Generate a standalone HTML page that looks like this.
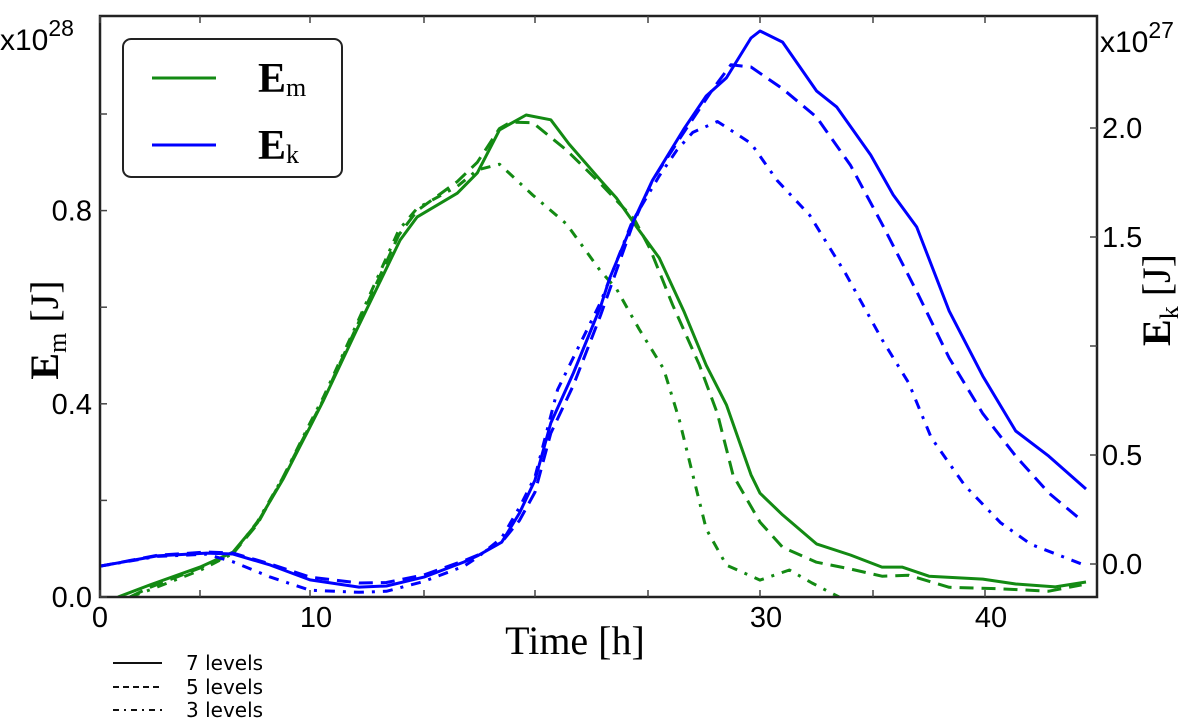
<!DOCTYPE html>
<html><head><meta charset="utf-8"><style>
html,body{margin:0;padding:0;background:#fff;}
svg{display:block;}
text{font-family:"Liberation Sans",sans-serif;}
.serif{font-family:"Liberation Serif","DejaVu Serif",serif;}
</style></head><body>
<svg id="chart" width="1200" height="727" viewBox="0 0 1200 727">
<defs><clipPath id="clip"><rect x="100" y="16" width="997" height="581"/></clipPath></defs>
<g id="series" clip-path="url(#clip)"></g>
<rect x="100" y="16" width="997" height="581" fill="none" stroke="#222" stroke-width="2.5"/>
<g id="ticks"></g>
<text x="0" y="50" font-size="30">x10<tspan dy="-14" font-size="23">28</tspan></text>
<text x="1100" y="52" font-size="30">x10<tspan dy="-14" font-size="23">27</tspan></text>
<text class="serif" transform="translate(58,330) rotate(-90)" text-anchor="middle" font-size="40" font-weight="bold">E<tspan font-size="26" font-weight="normal" dy="8">m</tspan><tspan dy="-8" font-weight="normal"> [J]</tspan></text>
<text class="serif" transform="translate(1170,300) rotate(-90)" text-anchor="middle" font-size="40" font-weight="bold">E<tspan font-size="26" font-weight="normal" dy="8">k</tspan><tspan dy="-8" font-weight="normal"> [J]</tspan></text>
<text class="serif" x="575" y="654" text-anchor="middle" font-size="40">Time [h]</text>
<g>
<rect x="123" y="39" width="219" height="138" rx="8" fill="#fff" stroke="#222" stroke-width="2"/>
<line x1="152" y1="78" x2="216" y2="78" stroke="#138a13" stroke-width="3"/>
<line x1="152" y1="145" x2="216" y2="145" stroke="#0000ff" stroke-width="3"/>
<text class="serif" x="258" y="92" font-size="42" font-weight="bold">E<tspan font-size="26" font-weight="normal" dy="4">m</tspan></text>
<text class="serif" x="258" y="159" font-size="42" font-weight="bold">E<tspan font-size="26" font-weight="normal" dy="4">k</tspan></text>
</g>
<g font-size="20">
<line x1="113" y1="663" x2="162" y2="663" stroke="#111" stroke-width="2"/>
<line x1="113" y1="687" x2="162" y2="687" stroke="#111" stroke-width="2" stroke-dasharray="6,4"/>
<line x1="113" y1="710" x2="162" y2="710" stroke="#111" stroke-width="2" stroke-dasharray="6,5,2,5"/>
<text x="186" y="670" style="font-family:'DejaVu Sans',sans-serif">7 levels</text>
<text x="186" y="694" style="font-family:'DejaVu Sans',sans-serif">5 levels</text>
<text x="186" y="717" style="font-family:'DejaVu Sans',sans-serif">3 levels</text>
</g>
</svg>
<script>
const xTicks=[0,5,10,15,20,25,30,35,40];
const xTickLabels=["0","","10","","","","30","","40"];
const leftTicks=[0,0.2,0.4,0.6,0.8,1.0];
const leftTickLabels=["0.0","","0.4","","0.8",""];
const rightTicks=[0,0.5,1.0,1.5,2.0];
const rightTickLabels=["0.0","0.5","","1.5","2.0"];
// Em (left axis, x1e28 J)
const emSolidT=[0.9,2.5,5,6.5,7.6,8.8,10,10.6,12.05,13.95,14.7,16.5,17.4,18.4,19.6,20.7,21.5,22.9,23.6,24.5,25.5,26.6,27.6,28.5,29.6,30,31,32.5,34,35.4,36.3,37.5,39.9,41.4,43.2,44.6];
const emSolidV=[0,0.025,0.062,0.093,0.153,0.246,0.352,0.408,0.553,0.739,0.787,0.836,0.878,0.967,0.998,0.988,0.938,0.863,0.826,0.766,0.702,0.592,0.48,0.398,0.253,0.215,0.17,0.11,0.087,0.062,0.062,0.043,0.037,0.027,0.021,0.031];
const emDashT=[1.5,2.5,5,6.5,7.6,8.8,10,10.6,12,13.9,14.7,16.5,17.4,18.4,18.9,19.9,21.4,22.9,24.4,25.1,26.1,27.3,28.1,28.8,30,31,32.5,34,35.4,36.6,38.4,40.7,42.9,44.4];
const emDashV=[0,0.02,0.06,0.09,0.15,0.25,0.355,0.41,0.555,0.75,0.80,0.86,0.9,0.97,0.983,0.982,0.925,0.856,0.782,0.72,0.605,0.48,0.38,0.252,0.155,0.103,0.072,0.058,0.043,0.045,0.02,0.017,0.012,0.025];
const emDotT=[1.5,2.5,5,6.5,7.6,8.8,10,10.6,12,13.9,14.7,16.5,17.4,18.4,19.9,21.4,22.9,23.6,24.6,25.7,26.4,27,27.6,28.5,30,31.3,32.3,33.5];
const emDotV=[0,0.015,0.055,0.09,0.155,0.25,0.36,0.415,0.56,0.76,0.805,0.85,0.884,0.896,0.832,0.772,0.675,0.638,0.555,0.472,0.366,0.253,0.141,0.066,0.035,0.056,0.029,0];
// Ek (right axis, x1e27 J)
const ekSolidT=[0,2.85,5.3,6.5,8.2,10,12.15,13.35,15,16.8,17.4,18.5,19.3,20,20.7,21.7,22.9,23.3,24.3,25.2,26.6,27.6,28.5,29.6,30,31,32.5,33.4,34.9,35.9,36.95,38.4,39.9,41.4,42.9,44.6];
const ekSolidV=[-0.01,0.037,0.05,0.046,-0.005,-0.073,-0.106,-0.101,-0.06,0.009,0.037,0.1,0.234,0.385,0.647,0.876,1.18,1.31,1.56,1.76,1.995,2.147,2.23,2.413,2.445,2.394,2.17,2.096,1.876,1.693,1.546,1.16,0.862,0.61,0.495,0.344];
const ekDashT=[0,2.85,5.3,6.5,8.2,10,12.15,13.35,15,16.8,17.4,18.5,19.3,20,20.7,21.7,22.9,24.3,25.2,26.6,27.9,28.7,29.6,31,32.5,34,35.4,37,38.4,39.9,41.4,42.9,44.4];
const ekDashV=[-0.01,0.04,0.055,0.05,0.0,-0.06,-0.087,-0.085,-0.05,0.015,0.04,0.1,0.2,0.33,0.6,0.82,1.14,1.55,1.76,1.98,2.18,2.29,2.28,2.18,2.05,1.83,1.56,1.24,0.945,0.69,0.495,0.326,0.2];
const ekDotT=[0,2.85,5.3,6.5,8.2,10,12.15,13.35,15,16.8,17.4,18.5,19.3,20,21,22.9,24.3,25.5,26.3,27,28.1,29.6,30.75,32.2,33.8,35.4,36.6,37.6,39.1,40.7,42.1,44.4];
const ekDotV=[-0.01,0.035,0.045,0.01,-0.06,-0.12,-0.13,-0.125,-0.08,-0.01,0.03,0.12,0.26,0.4,0.8,1.2,1.57,1.78,1.9,1.98,2.03,1.93,1.76,1.6,1.33,1.03,0.83,0.58,0.36,0.19,0.09,0.0];

const xDom=[0,5,10,15,20,25,30,35,40,45.1];
const xRng=[100,200,310,424,535,648,760,873,985,1097];
function xs(t){for(let i=0;i<xDom.length-1;i++){if(t<=xDom[i+1]||i===xDom.length-2){return xRng[i]+(t-xDom[i])*(xRng[i+1]-xRng[i])/(xDom[i+1]-xDom[i]);}}}
function yl(v){return 597-v*483;}
function yr(v){return 564-v*218;}
const NS='http://www.w3.org/2000/svg';
const sg=document.getElementById('series');
function draw(ts,vs,yf,color,dash,name){
  const p=document.createElementNS(NS,'path');
  let d='';for(let i=0;i<ts.length;i++){d+=(i?'L':'M')+xs(ts[i]).toFixed(1)+','+yf(vs[i]).toFixed(1);}
  p.setAttribute('d',d);p.setAttribute('fill','none');p.setAttribute('stroke',color);
  p.setAttribute('stroke-width','3');p.setAttribute('stroke-linejoin','round');
  if(dash)p.setAttribute('stroke-dasharray',dash);
  
  
  sg.appendChild(p);
}
const G='#138a13',B='#0000ff';
draw(emSolidT,emSolidV,yl,G,null,'em-7-levels-line');
draw(emDashT,emDashV,yl,G,'14,8','em-5-levels-line');
draw(emDotT,emDotV,yl,G,'10,8,3,8','em-3-levels-line');
draw(ekSolidT,ekSolidV,yr,B,null,'ek-7-levels-line');
draw(ekDashT,ekDashV,yr,B,'14,8','ek-5-levels-line');
draw(ekDotT,ekDotV,yr,B,'10,8,3,8','ek-3-levels-line');
const tg=document.getElementById('ticks');
function ln(x1,y1,x2,y2,name){const l=document.createElementNS(NS,'line');l.setAttribute('x1',x1);l.setAttribute('y1',y1);l.setAttribute('x2',x2);l.setAttribute('y2',y2);l.setAttribute('stroke','#444');l.setAttribute('stroke-width','1.5');


tg.appendChild(l);}
function tx(x,y,s,anchor,name){const t=document.createElementNS(NS,'text');t.setAttribute('x',x);t.setAttribute('y',y);t.setAttribute('font-size','29');t.setAttribute('text-anchor',anchor);t.textContent=s;


tg.appendChild(t);}
xTicks.forEach((v,i)=>{const x=xs(v);ln(x,597,x,590,'x-tick');ln(x,16,x,23,'x-tick-top');if(xTickLabels[i])tx(x+(v===0?0:6),627,xTickLabels[i],'middle','x-tick-label');});
leftTicks.forEach((v,i)=>{const y=yl(v);ln(100,y,107,y,'left-tick');if(leftTickLabels[i])tx(92,y+10,leftTickLabels[i],'end','left-tick-label');});
rightTicks.forEach((v,i)=>{const y=yr(v);ln(1097,y,1090,y,'right-tick');if(rightTickLabels[i])tx(1102,y+10,rightTickLabels[i],'start','right-tick-label');});
</script>
</body></html>
